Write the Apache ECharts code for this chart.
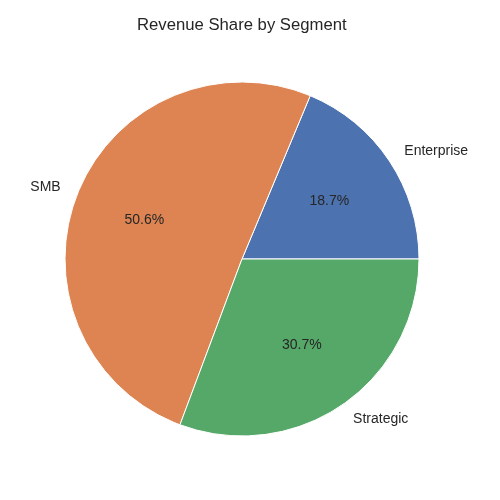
<!DOCTYPE html>
<html>
<head>
<meta charset="utf-8">
<title>Revenue Share by Segment</title>
<script src="https://cdn.jsdelivr.net/npm/echarts@6/dist/echarts.min.js"></script>
<style>
    html,body{margin:0;padding:0;background:#fff;}
    #chart{width:500px;height:500px;}
</style>
</head>
<body>
<div id="chart"></div>
<script>
    // data
    var segments = ['Enterprise', 'SMB', 'Strategic'];
    var shares = [18.7, 50.6, 30.7];
    var colors = ['#4c72b0', '#dd8452', '#55a868'];

    var pieData = segments.map(function (name, i) {
        return {name: name, value: shares[i]};
    });

    var myChart = echarts.init(document.getElementById('chart'));
    var option = {
        animation: false,
        color: colors,
        title: {
            text: 'Revenue Share by Segment',
            left: 132,
            top: 12,
            textStyle: {color: '#262626', fontSize: 16.7, fontWeight: 'normal', fontFamily: 'Liberation Sans, Arial, sans-serif'}
        },
        series: [
            {
                // slices + outside names
                type: 'pie',
                center: [242, 259],
                radius: [0, 177],
                startAngle: 0,
                clockwise: false,
                silent: true,
                itemStyle: {borderColor: '#fff', borderWidth: 1},
                label: {
                    show: true,
                    position: 'outside',
                    formatter: '{b}',
                    color: '#262626',
                    fontSize: 14,
                    fontFamily: 'Liberation Sans, Arial, sans-serif',
                    distanceToLabelLine: 0
                },
                labelLine: {show: false, length: 18, length2: 0},
                data: pieData
            },
            {
                // transparent copy, only to place the percentages at 0.6 r
                type: 'pie',
                center: [242, 259],
                radius: [0, 204],
                startAngle: 0,
                clockwise: false,
                silent: true,
                itemStyle: {color: 'rgba(0,0,0,0)'},
                label: {
                    show: true,
                    position: 'inside',
                    formatter: function (p) { return p.percent.toFixed(1) + '%'; },
                    color: '#262626',
                    fontSize: 14,
                    fontFamily: 'Liberation Sans, Arial, sans-serif'
                },
                labelLine: {show: false},
                data: pieData
            }
        ]
    };
    myChart.setOption(option);
</script>
</body>
</html>
